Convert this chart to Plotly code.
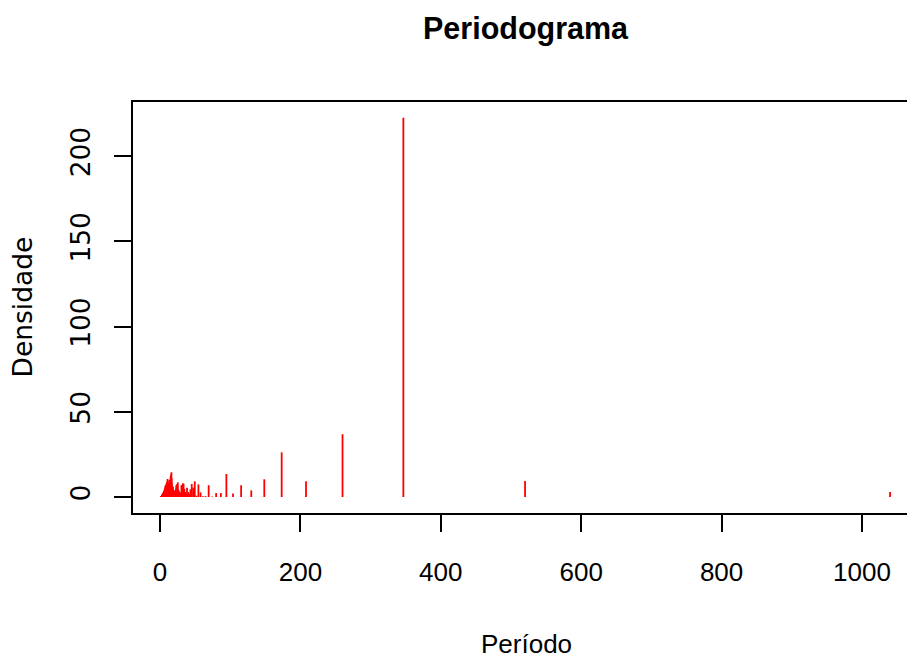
import numpy as np
import plotly.graph_objects as go

# Series length of the underlying data (periodogram of n = 1040 observations)
n_obs = 1040
# harmonic index k = 1..520 ; period = n_obs / k
density = [
    # k 1-23
    3.0, 9.4, 222.5, 36.8, 9.2, 26.2, 10.4, 3.9, 6.9, 2.0,
    13.5, 2.3, 2.3, 0.3, 6.9, 0.5, 0.5, 2.7, 7.4, 0.8,
    9.2, 5.5, 7.6,
    # k 24-40
    4.5, 2.0, 3.0, 5.5, 2.0, 3.0, 4.8, 7.8, 8.0, 6.5, 7.0, 2.5, 1.8, 3.0, 2.2, 4.0, 3.5,
    # k 41-60
    8.6, 6.0, 7.5, 4.0, 6.8, 5.0, 3.2, 2.0, 3.5, 1.5, 2.8, 4.0, 1.2, 2.5, 3.8, 6.0, 2.0, 4.5, 3.0, 5.8,
    # k 61-80
    3.5, 8.0, 11.0, 14.5, 9.0, 13.2, 6.0, 10.5, 12.0, 4.5, 7.5, 3.0, 9.5, 5.5, 10.0, 2.5, 6.8, 4.0, 8.5, 3.2,
    # k 81-100
    7.0, 2.0, 5.5, 6.5, 3.0, 4.8, 1.5, 6.0, 3.8, 5.0, 2.2, 8.0, 4.5, 9.8, 3.0, 6.5, 10.6, 2.5, 7.2, 4.0,
    # k 101-120
    5.5, 8.5, 3.0, 6.0, 2.0, 7.8, 4.2, 8.6, 1.8, 5.0, 6.8, 3.5, 2.5, 7.5, 4.0, 6.2, 1.5, 5.2, 3.0, 6.0,
    # k 121-140
    4.5, 6.5, 2.8, 5.8, 3.5, 7.0, 2.0, 4.8, 6.0, 3.2, 5.2, 1.8, 4.0, 6.6, 2.5, 3.8, 5.5, 2.2, 4.6, 3.0,
    # k 141-160
    5.0, 2.4, 3.6, 4.8, 1.6, 3.2, 4.5, 2.0, 3.8, 2.6, 4.2, 1.4, 3.0, 4.6, 2.2, 3.4, 1.8, 2.8, 4.0, 2.0,
    # k 161-180
    3.2, 1.6, 2.6, 3.8, 1.2, 2.8, 3.4, 1.8, 2.4, 3.0, 1.4, 2.2, 3.6, 1.6, 2.0, 2.8, 1.2, 2.4, 3.2, 1.5,
    # k 181-200
    2.6, 1.8, 2.2, 3.0, 1.0, 2.0, 2.8, 1.4, 1.8, 2.6, 1.2, 2.2, 2.9, 1.0, 1.6, 2.4, 1.3, 2.0, 2.7, 1.1,
    # k 201-220
    1.8, 2.4, 0.9, 1.6, 2.2, 1.2, 1.9, 2.6, 0.8, 1.5, 2.1, 1.0, 1.7, 2.3, 0.9, 1.4, 2.0, 1.1, 1.6, 2.2,
    # k 221-240
    1.0, 1.5, 2.0, 0.8, 1.3, 1.9, 1.1, 1.6, 2.1, 0.7, 1.4, 1.8, 1.0, 1.5, 2.0, 0.8, 1.2, 1.7, 1.0, 1.4,
    # k 241-260
    1.9, 0.7, 1.2, 1.6, 0.9, 1.4, 1.8, 0.6, 1.1, 1.5, 0.9, 1.3, 1.7, 0.6, 1.0, 1.4, 0.8, 1.2, 1.6, 0.7,
    # k 261-280
    1.1, 1.5, 0.8, 1.2, 1.6, 0.6, 1.0, 1.4, 0.7, 1.1, 1.5, 0.6, 0.9, 1.3, 0.7, 1.1, 1.4, 0.5, 0.9, 1.3,
    # k 281-300
    0.7, 1.0, 1.4, 0.5, 0.9, 1.2, 0.6, 1.0, 1.3, 0.5, 0.8, 1.2, 0.6, 0.9, 1.3, 0.5, 0.8, 1.1, 0.6, 0.9,
    # k 301-320
    1.2, 0.5, 0.8, 1.1, 0.6, 0.9, 1.2, 0.4, 0.8, 1.0, 0.6, 0.9, 1.1, 0.4, 0.7, 1.0, 0.5, 0.8, 1.1, 0.4,
    # k 321-340
    0.7, 1.0, 0.5, 0.8, 1.0, 0.4, 0.7, 0.9, 0.5, 0.8, 1.0, 0.4, 0.6, 0.9, 0.5, 0.7, 1.0, 0.4, 0.6, 0.9,
    # k 341-360
    0.5, 0.7, 0.9, 0.3, 0.6, 0.8, 0.5, 0.7, 0.9, 0.3, 0.6, 0.8, 0.4, 0.7, 0.9, 0.3, 0.5, 0.8, 0.4, 0.6,
    # k 361-380
    0.8, 0.3, 0.5, 0.7, 0.4, 0.6, 0.8, 0.3, 0.5, 0.7, 0.4, 0.6, 0.8, 0.3, 0.5, 0.7, 0.3, 0.5, 0.7, 0.4,
    # k 381-400
    0.6, 0.7, 0.3, 0.5, 0.7, 0.3, 0.5, 0.6, 0.4, 0.5, 0.7, 0.3, 0.4, 0.6, 0.3, 0.5, 0.6, 0.2, 0.4, 0.6,
    # k 401-420
    0.3, 0.5, 0.6, 0.2, 0.4, 0.5, 0.3, 0.5, 0.6, 0.2, 0.4, 0.5, 0.3, 0.4, 0.6, 0.2, 0.4, 0.5, 0.3, 0.4,
    # k 421-440
    0.5, 0.2, 0.4, 0.5, 0.3, 0.4, 0.5, 0.2, 0.3, 0.5, 0.3, 0.4, 0.5, 0.2, 0.3, 0.4, 0.2, 0.4, 0.5, 0.2,
    # k 441-460
    0.3, 0.4, 0.2, 0.3, 0.4, 0.2, 0.3, 0.4, 0.2, 0.3, 0.4, 0.2, 0.3, 0.4, 0.1, 0.3, 0.4, 0.2, 0.3, 0.4,
    # k 461-480
    0.2, 0.3, 0.3, 0.1, 0.3, 0.4, 0.2, 0.3, 0.3, 0.1, 0.2, 0.3, 0.2, 0.3, 0.3, 0.1, 0.2, 0.3, 0.2, 0.2,
    # k 481-500
    0.3, 0.1, 0.2, 0.3, 0.2, 0.2, 0.3, 0.1, 0.2, 0.3, 0.1, 0.2, 0.3, 0.1, 0.2, 0.2, 0.1, 0.2, 0.3, 0.1,
    # k 501-520
    0.2, 0.2, 0.1, 0.2, 0.2, 0.1, 0.2, 0.2, 0.1, 0.2, 0.2, 0.1, 0.1, 0.2, 0.1, 0.1, 0.2, 0.1, 0.1, 0.1,
]

harmonic = np.arange(1, len(density) + 1)
period = n_obs / harmonic

x_ticks = [0, 200, 400, 600, 800, 1000]
y_ticks = [0, 50, 100, 150, 200]

title_text = "Periodograma"
x_label = "Período"
y_label = "Densidade"

# build type="h" vertical spikes from the data
xs, ys = [], []
for p, d in zip(period, density):
    xs += [p, p, None]
    ys += [0, d, None]

fig = go.Figure()
fig.add_trace(go.Scatter(x=xs, y=ys, mode="lines",
                         line=dict(color="#FF0000", width=1.8),
                         hoverinfo="skip", showlegend=False))

FONT = "Liberation Sans, Arial, Helvetica, sans-serif"
VFONT = "DejaVu Sans, Liberation Sans, sans-serif"
fs = 26
vfs = 26.5

fig.update_layout(
    width=907, height=660,
    margin=dict(l=133, r=0, t=102, b=147, pad=0),
    paper_bgcolor="white", plot_bgcolor="white",
    font=dict(family=FONT, size=fs, color="black"),
    showlegend=False,
    xaxis=dict(range=[-38.46, 1064.1], tickvals=x_ticks, ticktext=[str(v) for v in x_ticks],
               ticks="outside", ticklen=17, tickwidth=2, tickcolor="black",
               showline=True, linewidth=2, linecolor="black", mirror=True,
               showgrid=False, zeroline=False, ticklabelstandoff=18,
               tickfont=dict(family=FONT, size=fs, color="black")),
    yaxis=dict(range=[-9.38, 231.7], tickvals=y_ticks, ticktext=[str(v) for v in y_ticks],
               ticks="outside", ticklen=17, tickwidth=2, tickcolor="black",
               showline=True, linewidth=2, linecolor="black", mirror=False,
               showgrid=False, zeroline=False, tickangle=-90, ticklabelstandoff=13,
               tickfont=dict(family=VFONT, size=vfs, color="black")),
    annotations=[
        dict(text="<b>" + title_text + "</b>", x=0.5078, y=1.18, xref="paper", yref="paper",
             xanchor="center", yanchor="middle", showarrow=False,
             font=dict(family=FONT, size=30.5, color="black")),
        dict(text=x_label, x=0.5078, y=-0.318, xref="paper", yref="paper",
             xanchor="center", yanchor="middle", showarrow=False,
             font=dict(family=FONT, size=fs, color="black")),
        dict(text=y_label, x=-0.1434, y=0.5, xref="paper", yref="paper",
             xanchor="center", yanchor="middle", showarrow=False, textangle=-90,
             font=dict(family=VFONT, size=vfs, color="black")),
    ],
)

fig.write_html("out.html")
